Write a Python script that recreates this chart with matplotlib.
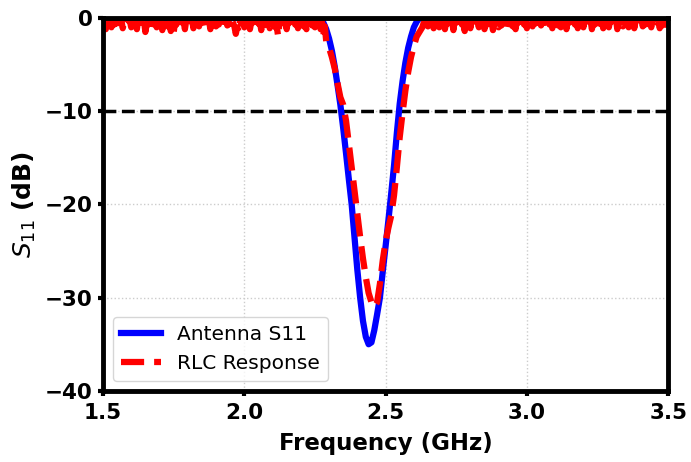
import numpy as np
import matplotlib.pyplot as plt

# ------------------------------
# DATA
# ------------------------------

# Antenna S11 (smooth resonance)
blue_freq = [1.50] + list(np.round(np.arange(2.26, 2.625, 0.01), 2)) + [3.50]
blue_db = [0.0,
           0.0, -0.1, -0.5, -1.2, -2.2, -3.5, -5.2, -7.2, -9.3, -11.8,
           -14.5, -17.3, -20.0, -23.5, -27.0, -30.0, -32.5, -34.2, -35.0, -34.8,
           -33.5, -31.8, -30.0, -27.2, -24.5, -21.7, -18.8, -15.8, -12.3, -9.2,
           -6.8, -4.8, -3.2, -2.0, -1.0, -0.4, 0.0,
           0.0]

# RLC response: noisy baseline left of the dip (lows on 0.01 grid, highs in between)
red_left_freq = np.round(np.arange(1.50, 2.255, 0.01), 3)
red_left_db = [-0.6, -1.2, -0.4, -1.0, -0.7, -1.3, -0.5, -1.1, -0.8, -0.3,
               -1.0, -0.6, -1.2, -0.5, -0.9, -1.5, -0.7, -1.1, -0.4, -1.0,
               -0.8, -1.3, -0.6, -0.9, -1.4, -1.6, -0.7, -1.0, -0.5, -1.2,
               -0.8, -0.4, -1.1, -0.7, -0.9, -0.3, -1.0, -0.6, -1.2, -0.5,
               -0.9, -0.7, -1.1, -0.4, -0.8, -1.0, -0.5, -1.7, -1.5, -0.6,
               -1.0, -0.7, -1.2, -0.5, -0.9, -0.6, -1.3, -0.8, -0.4, -1.1,
               -0.7, -1.0, -2.0, -0.6, -0.9, -1.2, -0.5, -1.0, -0.7, -1.1,
               -0.4, -0.9, -1.2, -0.6, -0.8, -1.0]
red_left_hi_freq = np.round(np.arange(1.505, 2.26, 0.01), 3)
red_left_hi_db = [-0.2, -0.1, -0.4, -0.2, -0.3, -0.1, -0.2, -0.5, -0.1, -0.3,
                  -0.2, -0.4, -0.1, -0.3, -0.2, -0.6, -0.3, -0.1, -0.2, -0.4,
                  -0.1, -0.3, -0.2, -0.5, -0.8, -0.4, -0.2, -0.1, -0.3, -0.2,
                  -0.4, -0.1, -0.2, -0.3, -0.1, -0.2, -0.4, -0.2, -0.1, -0.3,
                  -0.2, -0.1, -0.3, -0.2, -0.4, -0.2, -0.9, -1.0, -0.3, -0.1,
                  -0.3, -0.2, -0.4, -0.1, -0.2, -0.3, -0.2, -0.1, -0.4, -0.2,
                  -0.3, -0.9, -0.2, -0.1, -0.3, -0.2, -0.4, -0.1, -0.3, -0.2,
                  -0.1, -0.3, -0.2, -0.4, -0.3, -0.6]

# RLC response: the dip (plus a few noisy points on its upper shoulder)
red_dip_freq = np.round(np.arange(2.26, 2.645, 0.01), 3)
red_dip_db = [-1.0, -1.2, -1.8, -2.5, -3.2, -4.2, -5.4, -7.0, -8.5, -9.3,
              -11.0, -13.5, -16.0, -18.5, -21.0, -23.5, -25.8, -27.8, -29.5, -30.5,
              -31.0, -30.5, -28.5, -26.0, -24.0, -22.5, -21.2, -19.0, -16.0, -12.8,
              -10.2, -7.8, -5.8, -4.2, -3.0, -2.0, -1.5, -1.0, -0.8]
red_shoulder_freq = [2.265, 2.275, 2.285, 2.635, 2.645]
red_shoulder_db = [-0.2, -0.4, -0.9, -0.5, -0.3]

# RLC response: noisy baseline right of the dip
red_right_freq = np.round(np.arange(2.65, 3.505, 0.01), 3)
red_right_db = [-0.9, -0.5, -1.1, -0.7, -1.0, -0.4, -1.2, -0.6, -0.9, -1.3,
                -0.5, -1.0, -0.7, -1.4, -0.6, -1.1, -0.8, -0.4, -1.0, -0.6,
                -1.2, -0.7, -0.9, -1.3, -0.5, -1.0, -0.8, -0.3, -1.1, -0.6,
                -0.9, -1.2, -0.5, -1.0, -0.7, -1.1, -0.4, -0.9, -0.6, -1.2,
                -0.8, -0.5, -1.0, -0.7, -1.1, -0.4, -0.8, -1.0, -0.6, -1.2,
                -0.5, -0.9, -0.7, -1.1, -0.6, -1.0, -0.4, -0.8, -1.2, -0.7,
                -0.9, -0.5, -1.1, -0.6, -1.0, -0.8, -0.4, -1.2, -0.7, -0.9,
                -0.5, -1.0, -0.6, -1.1, -0.8, -0.4, -0.9, -1.2, -0.6, -1.0,
                -0.7, -0.5, -1.1, -0.8, -0.6, -1.0]
red_right_hi_freq = np.round(np.arange(2.655, 3.5, 0.01), 3)
red_right_hi_db = [-0.2, -0.3, -0.1, -0.4, -0.2, -0.1, -0.3, -0.2, -0.4, -0.1,
                   -0.3, -0.2, -0.5, -0.1, -0.3, -0.2, -0.1, -0.4, -0.2, -0.3,
                   -0.1, -0.2, -0.4, -0.2, -0.3, -0.1, -0.2, -0.3, -0.1, -0.4,
                   -0.2, -0.1, -0.3, -0.2, -0.4, -0.1, -0.3, -0.2, -0.1, -0.3,
                   -0.2, -0.4, -0.1, -0.3, -0.2, -0.1, -0.4, -0.2, -0.3, -0.1,
                   -0.2, -0.3, -0.1, -0.4, -0.2, -0.1, -0.3, -0.2, -0.4, -0.1,
                   -0.3, -0.2, -0.1, -0.3, -0.2, -0.4, -0.1, -0.2, -0.3, -0.1,
                   -0.4, -0.2, -0.1, -0.3, -0.2, -0.1, -0.3, -0.4, -0.2, -0.1,
                   -0.3, -0.2, -0.4, -0.1, -0.2]

threshold_db = -10
x_ticks = [1.5, 2.0, 2.5, 3.0, 3.5]
y_ticks = [0, -10, -20, -30, -40]

# merge the red pieces into one trace, ordered by frequency
pairs = sorted(
    list(zip(red_left_freq, red_left_db))
    + list(zip(red_left_hi_freq, red_left_hi_db))
    + list(zip(red_dip_freq, red_dip_db))
    + list(zip(red_shoulder_freq, red_shoulder_db))
    + list(zip(red_right_freq, red_right_db))
    + list(zip(red_right_hi_freq, red_right_hi_db))
)
red_freq = [p[0] for p in pairs]
red_db = [p[1] for p in pairs]

# ------------------------------
# PLOT
# ------------------------------

fig = plt.figure(figsize=(6.91, 4.62), dpi=100)
ax = fig.add_axes([0.149, 0.154, 0.818, 0.807])

ax.plot(blue_freq, blue_db, color="blue", lw=4.5, label="Antenna S11", zorder=2.2)
ax.plot(red_freq, red_db, color="red", lw=4.5, ls="--", label="RLC Response", zorder=2.3)
ax.axhline(threshold_db, color="black", lw=2.5, ls="--", zorder=2.1)

ax.set_xlim(1.5, 3.5)
ax.set_ylim(-40, 0)
ax.set_xticks(x_ticks)
ax.set_yticks(y_ticks)
ax.set_xticklabels([f"{t:.1f}" for t in x_ticks], fontsize=15.5, fontweight="bold")
ax.set_yticklabels([f"{t}".replace("-", "\u2212") for t in y_ticks], fontsize=15.5, fontweight="bold")
ax.tick_params(width=3, length=3.5)
ax.tick_params(axis="x", pad=5)
ax.tick_params(axis="y", pad=4)

ax.grid(True, ls=":", color="#cccccc", lw=1)
for s in ax.spines.values():
    s.set_linewidth(3.5)

ax.set_xlabel("Frequency (GHz)", fontsize=16.5, fontweight="bold", labelpad=6.5)
ax.set_ylabel(r"$S_{11}$ (dB)", fontsize=18, fontweight="bold", labelpad=5)

ax.legend(loc="lower left", fontsize=14.5, handlelength=2.0)

fig.savefig("out.png", dpi=100)
